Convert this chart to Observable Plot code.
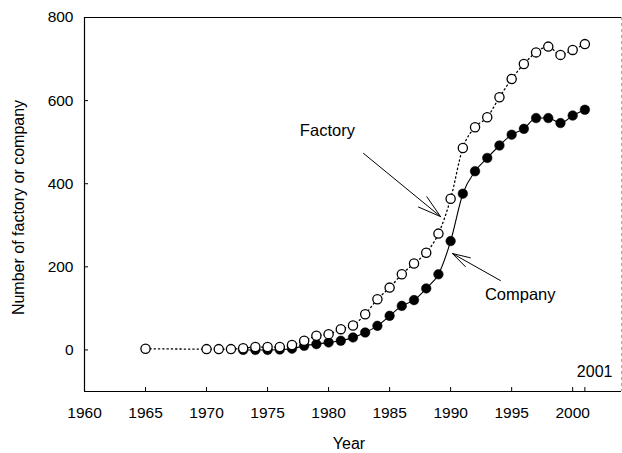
<!DOCTYPE html>
<html>
<head>
<meta charset="utf-8">
<script src="https://cdn.jsdelivr.net/npm/d3@7"></script>
<script src="https://cdn.jsdelivr.net/npm/@observablehq/plot@0.6"></script>
<style>
  html, body { margin: 0; padding: 0; background: #fff; }
  #chart { width: 622px; height: 453px; }
</style>
</head>
<body>
<div id="chart"></div>
<script>
// Factory series (open circles, dotted line)
const factoryYears = [1965, 1970, 1971, 1972, 1973, 1974, 1975, 1976, 1977, 1978, 1979, 1980, 1981, 1982, 1983, 1984, 1985, 1986, 1987, 1988, 1989, 1990, 1991, 1992, 1993, 1994, 1995, 1996, 1997, 1998, 1999, 2000, 2001];
const factoryValues = [3, 2, 2, 2, 4, 7, 7, 7, 12, 22, 34, 38, 50, 59, 86, 122, 150, 182, 208, 234, 280, 364, 486, 536, 560, 608, 652, 688, 716, 730, 710, 722, 736];

// Company series (filled circles, solid line)
const companyYears = [1973, 1974, 1975, 1976, 1977, 1978, 1979, 1980, 1981, 1982, 1983, 1984, 1985, 1986, 1987, 1988, 1989, 1990, 1991, 1992, 1993, 1994, 1995, 1996, 1997, 1998, 1999, 2000, 2001];
const companyValues = [0, 0, 0, 1, 3, 10, 14, 18, 22, 30, 42, 58, 82, 106, 120, 148, 182, 262, 376, 430, 462, 492, 518, 532, 558, 558, 546, 564, 578];

// Axes
const xDomain = [1960, 2004];
const yDomain = [-100, 800];
const xTickValues = [1960, 1965, 1970, 1975, 1980, 1985, 1990, 1995, 2000];
const xExtraTick = [2001];
const yTickValues = [0, 200, 400, 600, 800];
const xLabel = "Year";
const yLabel = "Number of factory or company";

// Annotations
const annText = ["Factory", "Company"];
const annX = [1979.9, 1995.7];
const annY = [528, 133];
const arrowX1 = [1982.86, 1994.08];
const arrowY1 = [473, 167];
const arrowX2 = [1989.17, 1990.15];
const arrowY2 = [321, 232];
const cornerText = ["2001"];
const cornerX = [2003.26];
const cornerY = [-52];

const factory = factoryYears.map((x, i) => ({x, y: factoryValues[i]}));
const company = companyYears.map((x, i) => ({x, y: companyValues[i]}));
const ann = annText.map((t, i) => ({t, x: annX[i], y: annY[i]}));
const arrows = arrowX1.map((x1, i) => ({x1, y1: arrowY1[i], x2: arrowX2[i], y2: arrowY2[i]}));
const corner = cornerText.map((t, i) => ({t, x: cornerX[i], y: cornerY[i]}));

const chart = Plot.plot({
  width: 622,
  height: 453,
  marginLeft: 84,
  marginRight: 1,
  marginTop: 17,
  marginBottom: 62,
  style: {fontFamily: "'Liberation Sans', Arial, sans-serif", fontSize: "15px", color: "black", background: "white"},
  x: {domain: xDomain},
  y: {domain: yDomain},
  marks: [
    // frame
    Plot.ruleY([yDomain[0], yDomain[1]], {stroke: "black", strokeWidth: 1.2}),
    Plot.ruleX([xDomain[0]], {stroke: "black", strokeWidth: 1.2}),
    Plot.ruleX([xDomain[1]], {stroke: "#aaa", strokeWidth: 1, strokeDasharray: "3,3"}),
    // axes
    Plot.axisX({ticks: xTickValues, tickSize: -4, tickPadding: 19, tickFormat: d => String(d), label: null, fontSize: 15.5}),
    Plot.axisX({ticks: xExtraTick, tickSize: -4, tickFormat: () => "", label: null}),
    Plot.axisY({ticks: yTickValues, tickSize: -4, tickPadding: 15, label: null, fontSize: 15.5}),
    Plot.text([xLabel], {frameAnchor: "bottom", dy: 52, dx: -4, textAnchor: "middle", lineAnchor: "middle", fontSize: 16}),
    Plot.text([yLabel], {frameAnchor: "left", dx: -66, dy: 3, rotate: -90, textAnchor: "middle", lineAnchor: "middle", fontSize: 16}),
    // series lines
    Plot.line(company, {x: "x", y: "y", stroke: "black", strokeWidth: 1.1, curve: "monotone-x"}),
    Plot.line(factory, {x: "x", y: "y", stroke: "black", strokeWidth: 1.3, strokeDasharray: "1.3,3", curve: "monotone-x"}),
    // markers
    Plot.dot(company, {x: "x", y: "y", r: 4.8, fill: "black", stroke: "black", strokeWidth: 0.5}),
    Plot.dot(factory, {x: "x", y: "y", r: 4.6, fill: "white", stroke: "black", strokeWidth: 1.3}),
    // annotations
    Plot.arrow(arrows, {x1: "x1", y1: "y1", x2: "x2", y2: "y2", stroke: "black", strokeWidth: 1, headLength: 36, headAngle: 32}),
    Plot.text(ann, {x: "x", y: "y", text: "t", fontSize: 16.5, fill: "black"}),
    Plot.text(corner, {x: "x", y: "y", text: "t", textAnchor: "end", fontSize: 16, fill: "black"})
  ]
});
document.getElementById("chart").appendChild(chart);
</script>
</body>
</html>
